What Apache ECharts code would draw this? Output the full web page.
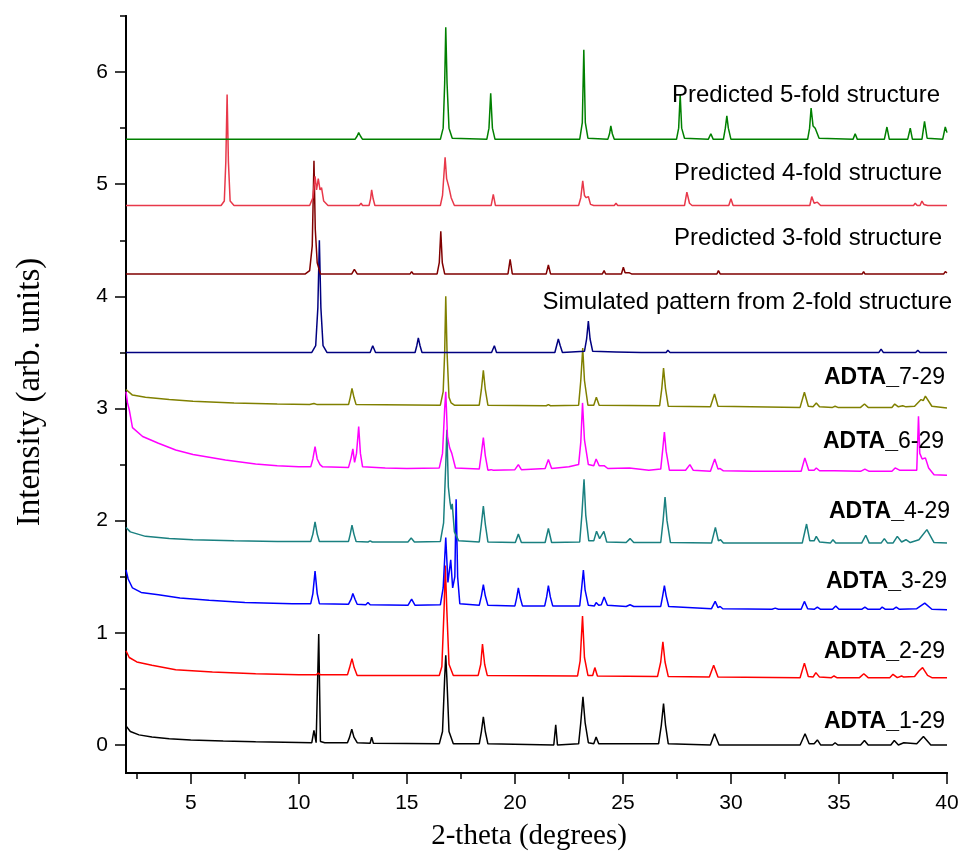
<!DOCTYPE html>
<html><head><meta charset="utf-8">
<script src="https://cdn.jsdelivr.net/npm/echarts@6/dist/echarts.min.js"></script>
<style>html,body{margin:0;padding:0;background:#fff}#c{width:962px;height:855px}</style>
</head><body><div id="c"></div>
<script>
// ---- data (x = 2-theta degrees, y = intensity, arb. units) ----
const xMajorTicks = [5,10,15,20,25,30,35,40];
const xMinorTicks = [2.5,7.5,12.5,17.5,22.5,27.5,32.5,37.5];
const yMajorTicks = [0,1,2,3,4,5,6];
const yMinorTicks = [0.5,1.5,2.5,3.5,4.5,5.5,6.5];

const adta1 = [[2,0.17],[2.2,0.12],[2.6,0.09],[3.2,0.07],[4,0.055],[5,0.045],[6.5,0.035],[8,0.028],[10,0.022],
[10.6,0.02],[10.7,0.13],[10.8,0.02],[10.85,0.03],[10.92,0.99],[11.0,0.03],[11.2,0.02],
[12.25,0.02],[12.35,0.07],[12.45,0.14],[12.55,0.07],[12.7,0.02],
[13.3,0.015],[13.37,0.07],[13.45,0.015],
[16.5,0.01],[16.65,0.12],[16.75,0.6],[16.8,0.8],[16.85,0.6],[16.95,0.12],[17.15,0.01],
[18.35,0.01],[18.45,0.12],[18.54,0.25],[18.63,0.12],[18.75,0.01],
[21.8,0.0],[21.89,0.18],[21.97,0.0],
[22.95,0.01],[23.05,0.2],[23.15,0.43],[23.25,0.2],[23.4,0.02],[23.65,0.01],[23.76,0.07],[23.88,0.01],
[26.65,0.01],[26.78,0.18],[26.88,0.37],[26.97,0.18],[27.1,0.01],
[29.05,0.0],[29.24,0.1],[29.45,0.0],
[33.2,0.0],[33.43,0.1],[33.62,0.01],[33.85,0.01],[34.0,0.045],[34.15,0.0],[34.7,0.0],[34.82,0.02],[34.95,0.0],
[36.0,0.0],[36.18,0.04],[36.35,0.0],[37.4,0.0],[37.56,0.04],[37.75,0.0],[38.0,0.02],[38.6,0.01],[38.91,0.075],[39.25,0.0],[40,0.0]];

const adta2 = [[2,0.84],[2.15,0.78],[2.5,0.74],[3.2,0.71],[4.3,0.67],[6,0.65],[8,0.635],[10,0.625],[10.8,0.625],[10.9,0.64],[11.0,0.625],
[12.25,0.625],[12.35,0.69],[12.46,0.77],[12.56,0.69],[12.7,0.62],
[16.5,0.62],[16.62,0.7],[16.72,1.2],[16.78,1.6],[16.85,1.2],[16.95,0.72],[17.15,0.62],
[18.3,0.62],[18.42,0.72],[18.5,0.9],[18.6,0.72],[18.72,0.62],
[22.9,0.615],[23.02,0.75],[23.13,1.15],[23.22,0.78],[23.38,0.62],[23.6,0.62],[23.7,0.69],[23.82,0.615],
[26.6,0.61],[26.75,0.74],[26.85,0.92],[26.95,0.74],[27.1,0.61],
[29.0,0.605],[29.2,0.71],[29.4,0.605],[33.2,0.6],[33.4,0.73],[33.58,0.61],[33.8,0.605],[33.93,0.645],[34.1,0.605],
[34.65,0.6],[34.77,0.615],[34.9,0.6],[35.95,0.6],[36.15,0.635],[36.35,0.6],[37.35,0.6],[37.5,0.63],[37.7,0.6],[37.9,0.615],[38.0,0.605],
[38.5,0.61],[38.7,0.66],[38.87,0.69],[39.1,0.62],[39.3,0.6],[40,0.6]];

const adta3 = [[2,1.56],[2.1,1.48],[2.3,1.40],[2.7,1.36],[3.5,1.34],[4.5,1.31],[5.85,1.29],[7.5,1.27],[9.7,1.26],
[10.55,1.26],[10.65,1.35],[10.75,1.55],[10.85,1.35],[10.95,1.26],[12.3,1.255],[12.42,1.3],[12.5,1.35],[12.6,1.3],[12.7,1.255],
[13.1,1.25],[13.2,1.27],[13.3,1.25],[15.05,1.245],[15.22,1.30],[15.38,1.245],
[16.55,1.25],[16.68,1.4],[16.8,1.85],[16.9,1.45],[17.03,1.65],[17.12,1.4],[17.22,1.5],[17.28,2.19],[17.35,1.5],[17.45,1.26],
[18.35,1.245],[18.45,1.33],[18.54,1.43],[18.63,1.33],[18.75,1.245],[20.0,1.24],[20.08,1.31],[20.16,1.40],[20.25,1.31],[20.35,1.24],
[21.38,1.24],[21.47,1.32],[21.55,1.42],[21.64,1.32],[21.75,1.24],[23.0,1.24],[23.08,1.38],[23.17,1.56],[23.25,1.38],[23.4,1.245],
[23.68,1.24],[23.76,1.27],[23.88,1.245],[24.0,1.25],[24.13,1.32],[24.28,1.245],[25.15,1.235],[25.33,1.25],[25.5,1.235],
[26.75,1.235],[26.84,1.33],[26.92,1.42],[27.0,1.33],[27.12,1.235],[29.1,1.215],[29.27,1.28],[29.4,1.225],[29.5,1.235],[29.62,1.215],
[31.9,1.21],[32.05,1.22],[32.2,1.21],[33.25,1.21],[33.4,1.28],[33.55,1.215],[33.85,1.21],[34.0,1.23],[34.15,1.21],
[34.7,1.21],[34.85,1.24],[35.0,1.21],[36.05,1.21],[36.2,1.23],[36.35,1.21],[36.9,1.21],[37.0,1.23],[37.15,1.21],
[37.5,1.21],[37.65,1.23],[37.8,1.21],[38.6,1.215],[38.97,1.265],[39.3,1.21],[40,1.205]];

const adta4 = [[2,1.94],[2.2,1.9],[2.9,1.86],[4,1.84],[5.1,1.83],[7,1.82],[9,1.815],
[10.55,1.815],[10.65,1.88],[10.75,1.99],[10.85,1.88],[10.95,1.815],[12.3,1.815],[12.38,1.88],[12.46,1.96],[12.55,1.88],[12.65,1.815],
[13.2,1.81],[13.3,1.82],[13.4,1.81],[15.05,1.81],[15.2,1.845],[15.35,1.81],
[16.55,1.815],[16.7,1.98],[16.8,2.5],[16.85,2.81],[16.92,2.3],[17.0,2.16],[17.05,2.1],[17.1,2.15],[17.2,1.9],[17.4,1.82],
[18.35,1.81],[18.45,1.97],[18.54,2.13],[18.63,1.97],[18.75,1.81],[20.02,1.805],[20.16,1.88],[20.3,1.805],
[21.4,1.805],[21.55,1.93],[21.7,1.805],[23.0,1.81],[23.1,2.05],[23.2,2.37],[23.28,2.05],[23.42,1.82],
[23.65,1.82],[23.78,1.905],[23.92,1.84],[24.12,1.905],[24.25,1.81],[25.15,1.805],[25.33,1.84],[25.5,1.805],
[26.75,1.805],[26.86,2.0],[26.95,2.21],[27.04,2.0],[27.2,1.805],[29.1,1.8],[29.28,1.94],[29.42,1.82],[29.52,1.83],[29.65,1.8],
[33.3,1.8],[33.5,1.97],[33.65,1.82],[33.85,1.82],[33.95,1.86],[34.1,1.81],[34.6,1.8],[34.72,1.83],[34.85,1.8],
[36.05,1.8],[36.24,1.87],[36.4,1.8],[36.95,1.8],[37.1,1.84],[37.25,1.8],[37.5,1.8],[37.7,1.86],[37.9,1.81],[38.1,1.83],[38.3,1.805],
[38.7,1.83],[39.07,1.92],[39.4,1.805],[40,1.80]];

const adta6 = [[2,3.15],[2.07,3.05],[2.15,2.99],[2.3,2.83],[2.77,2.75],[3.5,2.69],[4.3,2.63],[5.1,2.59],[6.6,2.54],[8.0,2.505],[9.0,2.49],[10.0,2.48],
[10.55,2.48],[10.65,2.55],[10.75,2.66],[10.85,2.55],[10.98,2.5],[11.1,2.48],[12.3,2.475],[12.42,2.56],[12.5,2.64],[12.58,2.52],[12.67,2.6],[12.77,2.84],[12.85,2.6],[12.95,2.48],
[14,2.47],[15,2.465],[16.5,2.47],[16.65,2.6],[16.75,3.0],[16.8,3.15],[16.88,2.75],[16.98,2.65],[17.08,2.6],[17.25,2.47],
[18.35,2.46],[18.45,2.6],[18.54,2.74],[18.63,2.58],[18.75,2.45],[18.9,2.455],[19.0,2.45],[20.0,2.455],[20.16,2.5],[20.3,2.455],
[21.4,2.465],[21.55,2.545],[21.7,2.465],[22.5,2.48],[22.95,2.5],[23.05,2.7],[23.13,3.05],[23.22,2.72],[23.4,2.5],
[23.65,2.49],[23.76,2.55],[23.9,2.49],[24.13,2.49],[24.3,2.465],[25.3,2.47],[26.2,2.45],[26.75,2.46],[26.85,2.65],[26.92,2.79],[27.0,2.62],[27.15,2.45],
[27.9,2.45],[28.1,2.5],[28.25,2.45],[29.05,2.44],[29.25,2.55],[29.4,2.46],[29.5,2.465],[29.65,2.445],[31,2.44],
[33.25,2.44],[33.42,2.56],[33.6,2.45],[33.85,2.45],[33.95,2.47],[34.1,2.445],[34.8,2.445],[36.0,2.44],[36.2,2.46],[36.4,2.44],
[37.45,2.44],[37.6,2.47],[37.8,2.45],[38.6,2.45],[38.68,2.93],[38.74,2.6],[38.85,2.55],[39.0,2.56],[39.15,2.47],[39.4,2.41],[40,2.405]];

const adta7 = [[2,3.17],[2.3,3.12],[2.9,3.10],[4,3.08],[5.1,3.065],[7,3.05],[9,3.04],[10.5,3.035],[10.7,3.045],[10.85,3.035],
[12.3,3.035],[12.38,3.1],[12.46,3.18],[12.55,3.1],[12.65,3.035],[16.55,3.03],[16.68,3.15],[16.75,3.5],[16.8,4.0],[16.86,3.5],[16.95,3.1],[17.05,3.05],[17.2,3.03],
[18.35,3.03],[18.45,3.17],[18.54,3.34],[18.63,3.17],[18.75,3.03],[21.45,3.025],[21.55,3.035],[21.65,3.025],
[22.95,3.03],[23.05,3.25],[23.14,3.54],[23.22,3.25],[23.38,3.03],[23.65,3.03],[23.77,3.1],[23.9,3.03],
[26.7,3.025],[26.8,3.18],[26.88,3.36],[26.97,3.18],[27.1,3.02],[29.05,3.015],[29.24,3.13],[29.4,3.02],
[33.2,3.01],[33.4,3.145],[33.58,3.02],[33.8,3.015],[33.95,3.05],[34.1,3.015],[34.7,3.01],[34.82,3.02],[34.95,3.01],
[36.0,3.01],[36.18,3.04],[36.35,3.01],[37.45,3.01],[37.58,3.04],[37.75,3.015],[37.95,3.025],[38.1,3.015],
[38.5,3.02],[38.8,3.08],[38.9,3.07],[39.0,3.11],[39.3,3.02],[40,3.005]];

const sim2fold = [[2,3.5],[10.6,3.5],[10.78,3.56],[10.88,3.9],[10.95,4.5],[11.02,3.9],[11.12,3.56],[11.3,3.5],
[13.3,3.5],[13.42,3.56],[13.55,3.5],[15.38,3.5],[15.46,3.56],[15.53,3.63],[15.61,3.56],[15.7,3.5],
[18.92,3.5],[19.05,3.56],[19.15,3.5],[21.85,3.5],[21.93,3.56],[22.01,3.62],[22.1,3.56],[22.2,3.5],
[23.22,3.51],[23.32,3.62],[23.4,3.78],[23.48,3.62],[23.6,3.51],[24.68,3.505],[24.75,3.5],[25.85,3.5],[25.92,3.51],[26,3.5],
[27.0,3.5],[27.08,3.52],[27.18,3.5],[29.2,3.5],[29.27,3.505],[29.35,3.5],[32.3,3.5],[32.35,3.505],[32.4,3.5],
[33.25,3.5],[33.3,3.51],[33.38,3.5],[34.2,3.5],[34.25,3.505],[34.3,3.5],[35.05,3.5],[35.1,3.505],[35.15,3.5],
[35.95,3.5],[36.0,3.51],[36.08,3.5],[36.85,3.5],[36.95,3.53],[37.05,3.5],[38.55,3.5],[38.65,3.52],[38.75,3.5],[40,3.5]];

const pred3fold = [[2,4.2],[10.3,4.2],[10.5,4.23],[10.62,4.45],[10.7,5.21],[10.76,4.6],[10.85,4.3],[11.0,4.2],
[12.45,4.2],[12.57,4.24],[12.7,4.2],[15.15,4.2],[15.22,4.22],[15.3,4.2],[16.4,4.2],[16.5,4.3],[16.57,4.58],[16.64,4.3],[16.75,4.2],
[19.68,4.2],[19.78,4.33],[19.88,4.2],[21.45,4.2],[21.55,4.28],[21.65,4.2],[24.05,4.2],[24.13,4.23],[24.2,4.2],
[24.93,4.2],[25.02,4.26],[25.1,4.21],[25.3,4.21],[25.4,4.2],[29.35,4.2],[29.42,4.23],[29.5,4.2],[32.55,4.2],[32.59,4.215],[32.65,4.2],
[33.45,4.2],[33.51,4.215],[33.58,4.2],[34.95,4.2],[35.0,4.205],[35.05,4.2],[36.08,4.2],[36.14,4.22],[36.2,4.2],
[36.72,4.2],[36.77,4.215],[36.84,4.2],[38.32,4.2],[38.37,4.215],[38.44,4.2],[39.85,4.2],[39.92,4.22],[40,4.21]];

const pred4fold = [[2,4.81],[6.4,4.81],[6.55,4.85],[6.62,5.2],[6.68,5.8],[6.74,5.2],[6.82,4.85],[7.0,4.81],
[10.5,4.81],[10.65,4.88],[10.75,5.07],[10.82,4.95],[10.9,5.05],[10.98,4.95],[11.05,4.97],[11.15,4.85],[11.35,4.81],
[12.8,4.81],[12.88,4.83],[12.95,4.81],[13.25,4.81],[13.32,4.87],[13.37,4.95],[13.44,4.87],[13.52,4.81],
[16.55,4.81],[16.65,4.9],[16.72,5.1],[16.77,5.24],[16.84,5.05],[16.95,4.97],[17.05,4.88],[17.2,4.81],
[18.9,4.81],[19.0,4.91],[19.1,4.81],[20.15,4.81],[20.2,4.82],[20.25,4.81],[21.95,4.81],[22.0,4.825],[22.05,4.81],
[22.95,4.81],[23.05,4.88],[23.14,5.03],[23.22,4.9],[23.3,4.88],[23.4,4.89],[23.5,4.82],[23.65,4.81],
[24.6,4.81],[24.68,4.83],[24.76,4.81],[27.85,4.81],[27.96,4.93],[28.08,4.83],[28.2,4.81],[28.85,4.81],[28.9,4.815],[28.95,4.81],
[29.9,4.81],[30.0,4.87],[30.1,4.81],[33.65,4.81],[33.74,4.89],[33.85,4.83],[34.0,4.84],[34.15,4.81],
[34.95,4.81],[35.0,4.815],[35.1,4.81],[35.55,4.81],[35.6,4.82],[35.7,4.81],[37.5,4.81],[37.57,4.82],[37.65,4.81],
[38.45,4.81],[38.53,4.83],[38.62,4.81],[38.75,4.81],[38.84,4.85],[38.93,4.82],[39.0,4.815],[39.1,4.81],[40,4.81]];

const pred5fold = [[2,5.4],[12.6,5.4],[12.7,5.43],[12.77,5.46],[12.85,5.43],[12.95,5.4],[15.55,5.4],[15.6,5.405],[15.65,5.4],
[16.55,5.4],[16.68,5.5],[16.75,5.9],[16.8,6.40],[16.86,5.9],[16.95,5.5],[17.1,5.41],
[18.7,5.4],[18.8,5.5],[18.88,5.81],[18.96,5.5],[19.08,5.4],[23.0,5.4],[23.12,5.55],[23.19,6.2],[23.26,5.55],[23.38,5.41],
[24.3,5.4],[24.38,5.45],[24.44,5.52],[24.51,5.45],[24.6,5.4],[27.48,5.4],[27.58,5.5],[27.65,5.80],[27.72,5.5],[27.85,5.41],
[28.95,5.4],[29.07,5.45],[29.18,5.4],[29.65,5.4],[29.74,5.5],[29.81,5.61],[29.88,5.5],[30.0,5.4],
[33.55,5.4],[33.64,5.5],[33.71,5.68],[33.8,5.52],[33.9,5.5],[33.95,5.51],[34.08,5.41],[35.65,5.4],[35.75,5.45],[35.85,5.4],
[37.1,5.4],[37.22,5.51],[37.33,5.4],[38.18,5.4],[38.3,5.5],[38.4,5.4],[38.84,5.4],[38.96,5.56],[39.08,5.41],[39.8,5.4],[39.92,5.51],[40,5.46]];

const seriesNames = ['ADTA_1-29','ADTA_2-29','ADTA_3-29','ADTA_4-29','ADTA_6-29','ADTA_7-29',
  'Simulated pattern from 2-fold structure','Predicted 3-fold structure','Predicted 4-fold structure','Predicted 5-fold structure'];
const seriesData = [adta1, adta2, adta3, adta4, adta6, adta7, sim2fold, pred3fold, pred4fold, pred5fold];

// ---- styling ----
const colors = ['#000000','#ff0000','#0000ff','#1a8080','#ff00ff','#808000','#000080','#800000','#e8384a','#008000'];
// label layout: [right x px, center y px]
const labelPos = [[945,722],[945,652],[947,582],[950,512],[944,442],[945,378],[952,302],[942,238],[942,173],[940,95]];

const chart = echarts.init(document.getElementById('c'), null, {renderer:'canvas'});
const axisCol = '#000';
const option = {
  animation:false,
  backgroundColor:'#fff',
  grid:{left:126, right:15, top:16, bottom:82, containLabel:false},
  xAxis:[
    {type:'value', min:2, max:40, position:'bottom',
     axisLine:{show:true, onZero:false, lineStyle:{color:axisCol, width:2}},
     axisTick:{show:true, customValues:xMajorTicks, length:11, inside:false, lineStyle:{color:axisCol, width:1.5}},
     axisLabel:{customValues:xMajorTicks, margin:20, color:'#000', fontSize:21, fontFamily:'Liberation Sans'},
     splitLine:{show:false}},
    {type:'value', min:2, max:40, position:'bottom', offset:0,
     axisLine:{show:true, onZero:false, lineStyle:{color:axisCol, width:2}}, axisLabel:{show:false}, splitLine:{show:false},
     axisTick:{show:true, inside:false, customValues:xMinorTicks, length:6, lineStyle:{color:axisCol, width:1.5}}}
  ],
  yAxis:[
    {type:'value', min:-0.25, max:6.5, position:'left',
     axisLine:{show:true, onZero:false, lineStyle:{color:axisCol, width:2}},
     axisTick:{show:true, customValues:yMajorTicks, length:11, lineStyle:{color:axisCol, width:1.5}},
     axisLabel:{customValues:yMajorTicks, margin:18, color:'#000', fontSize:21, fontFamily:'Liberation Sans'},
     splitLine:{show:false}},
    {type:'value', min:-0.25, max:6.5, position:'left', offset:0,
     axisLine:{show:true, onZero:false, lineStyle:{color:axisCol, width:2}}, axisLabel:{show:false}, splitLine:{show:false},
     axisTick:{show:true, inside:false, customValues:yMinorTicks, length:6, lineStyle:{color:axisCol, width:1.5}}}
  ],
  series: seriesData.map((d,i)=>({
    name:seriesNames[i], type:'line', data:d, xAxisIndex:0, yAxisIndex:0,
    showSymbol:false, symbol:'none', smooth:false, clip:true,
    lineStyle:{color:colors[i], width:1.5}, z:2+i
  })),
  graphic:[]
};
const g = [];
seriesNames.forEach((n,i)=>{
  const [rx, cy] = labelPos[i];
  if (n.startsWith('ADTA_')) {
    g.push({type:'text', x:rx, y:cy, z:100,
      style:{text:'{b|ADTA_}{n|'+n.slice(5)+'}', fill:'#000', align:'right', verticalAlign:'middle',
        textAlign:'right', textVerticalAlign:'middle',
        rich:{b:{fontFamily:'Liberation Sans', fontWeight:'bold', fontSize:23, fill:'#000'},
              n:{fontFamily:'Liberation Sans', fontSize:23, fill:'#000'}}}});
  } else {
    g.push({type:'text', x:rx, y:cy, z:100,
      style:{text:n, fill:'#000', font:'24px "Liberation Sans"', align:'right', verticalAlign:'middle',
        textAlign:'right', textVerticalAlign:'middle'}});
  }
});
g.push({type:'text', x:529, y:836, z:100, style:{text:'2-theta (degrees)', fill:'#000', font:'29px "Liberation Serif"',
  align:'center', verticalAlign:'middle', textAlign:'center', textVerticalAlign:'middle'}});
g.push({type:'text', x:30, y:392, rotation:Math.PI/2, z:100,
  style:{text:'Intensity (arb. units)', fill:'#000', font:'33px "Liberation Serif"', align:'center', verticalAlign:'middle',
    textAlign:'center', textVerticalAlign:'middle'}});
option.graphic = g;
chart.setOption(option);
</script></body></html>
